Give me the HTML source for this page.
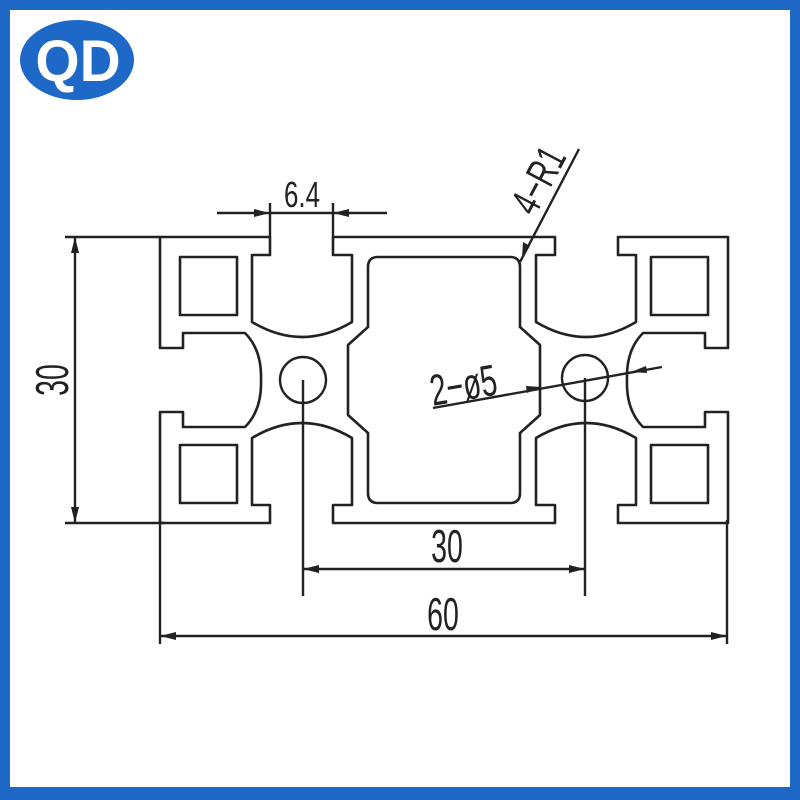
<!DOCTYPE html>
<html><head><meta charset="utf-8"><style>
html,body{margin:0;padding:0;background:#fff}
svg{display:block}
text{font-family:"Liberation Sans",sans-serif;fill:#222}
</style></head><body>
<svg width="800" height="800" viewBox="0 0 800 800" xmlns="http://www.w3.org/2000/svg">
<rect x="0" y="0" width="800" height="800" fill="#1e68c8"/>
<rect x="10" y="10" width="780" height="777" fill="#fff"/>
<ellipse cx="77" cy="60" rx="57" ry="40" fill="#1e68c8"/>
<text x="0" y="0" text-anchor="middle" font-size="58" font-weight="bold" style="fill:#fff" transform="translate(78 81) scale(0.98 1)">QD</text>

<defs>
<g id="q" fill="none" stroke="#222" stroke-width="2.6" stroke-linejoin="round">
<path d="M444,237 H333 V255 H352 V322 Q302,352 252,322 V255 H270 V237 H160 V348 H183 V333 H245 Q262,350 261,380"/>
<path d="M444,257 H378 Q368,257 368,267 V327 L348,345 V380"/>
<rect x="180" y="257" width="57" height="58"/>
</g>
</defs>
<use href="#q"/>
<use href="#q" transform="matrix(-1,0,0,1,888,0)"/>
<use href="#q" transform="matrix(1,0,0,-1,0,760)"/>
<use href="#q" transform="matrix(-1,0,0,-1,888,760)"/>
<g fill="none" stroke="#222" stroke-width="2.4">
<circle cx="303" cy="380" r="23"/>
<circle cx="585" cy="378" r="23"/>
<line x1="303" y1="380" x2="303" y2="596"/>
<line x1="585" y1="378" x2="585" y2="596"/>
<line x1="303" y1="569" x2="585" y2="569"/>
<line x1="160" y1="520" x2="160" y2="644"/>
<line x1="727" y1="520" x2="727" y2="644"/>
<line x1="160" y1="636" x2="727" y2="636"/>
<line x1="65" y1="237" x2="160" y2="237"/>
<line x1="65" y1="523" x2="165" y2="523"/>
<line x1="75" y1="237" x2="75" y2="523"/>
<line x1="270" y1="203" x2="270" y2="237"/>
<line x1="333" y1="203" x2="333" y2="237"/>
<line x1="217" y1="213" x2="387" y2="213"/>
<line x1="520" y1="262" x2="579" y2="149"/>
<line x1="433" y1="408" x2="662" y2="367"/>
</g>
<g fill="#222">
<polygon points="303,569 319,565 319,573"/>
<polygon points="585,569 569,565 569,573"/>
<polygon points="160,636 176,632 176,640"/>
<polygon points="727,636 711,632 711,640"/>
<polygon points="75,237 71,253 79,253"/>
<polygon points="75,523 71,507 79,507"/>
<polygon points="270,213 254,209 254,217"/>
<polygon points="333,213 349,209 349,217"/>
<polygon points="522,258 523,242 530,246"/>
<polygon points="541,387 526,386 527,393"/>
<polygon points="631,372 646,366 647,373"/>
</g>
<text x="0" y="0" font-size="46" text-anchor="middle" transform="translate(447 562) scale(0.62 1)">30</text>
<text x="0" y="0" font-size="46" text-anchor="middle" transform="translate(443 630) scale(0.62 1)">60</text>
<text x="0" y="0" font-size="46" text-anchor="middle" transform="translate(68 380) rotate(-90) scale(0.62 1)">30</text>
<text x="0" y="0" font-size="36" text-anchor="middle" transform="translate(302 207) scale(0.72 1)">6.4</text>
<text x="0" y="0" font-size="42" text-anchor="middle" transform="translate(551 187) rotate(-62) scale(0.68 1)">4−R1</text>
<text x="0" y="0" font-size="44" text-anchor="middle" transform="translate(466 400) rotate(-10) scale(0.66 1)">2−ø5</text>
</svg>
</body></html>
